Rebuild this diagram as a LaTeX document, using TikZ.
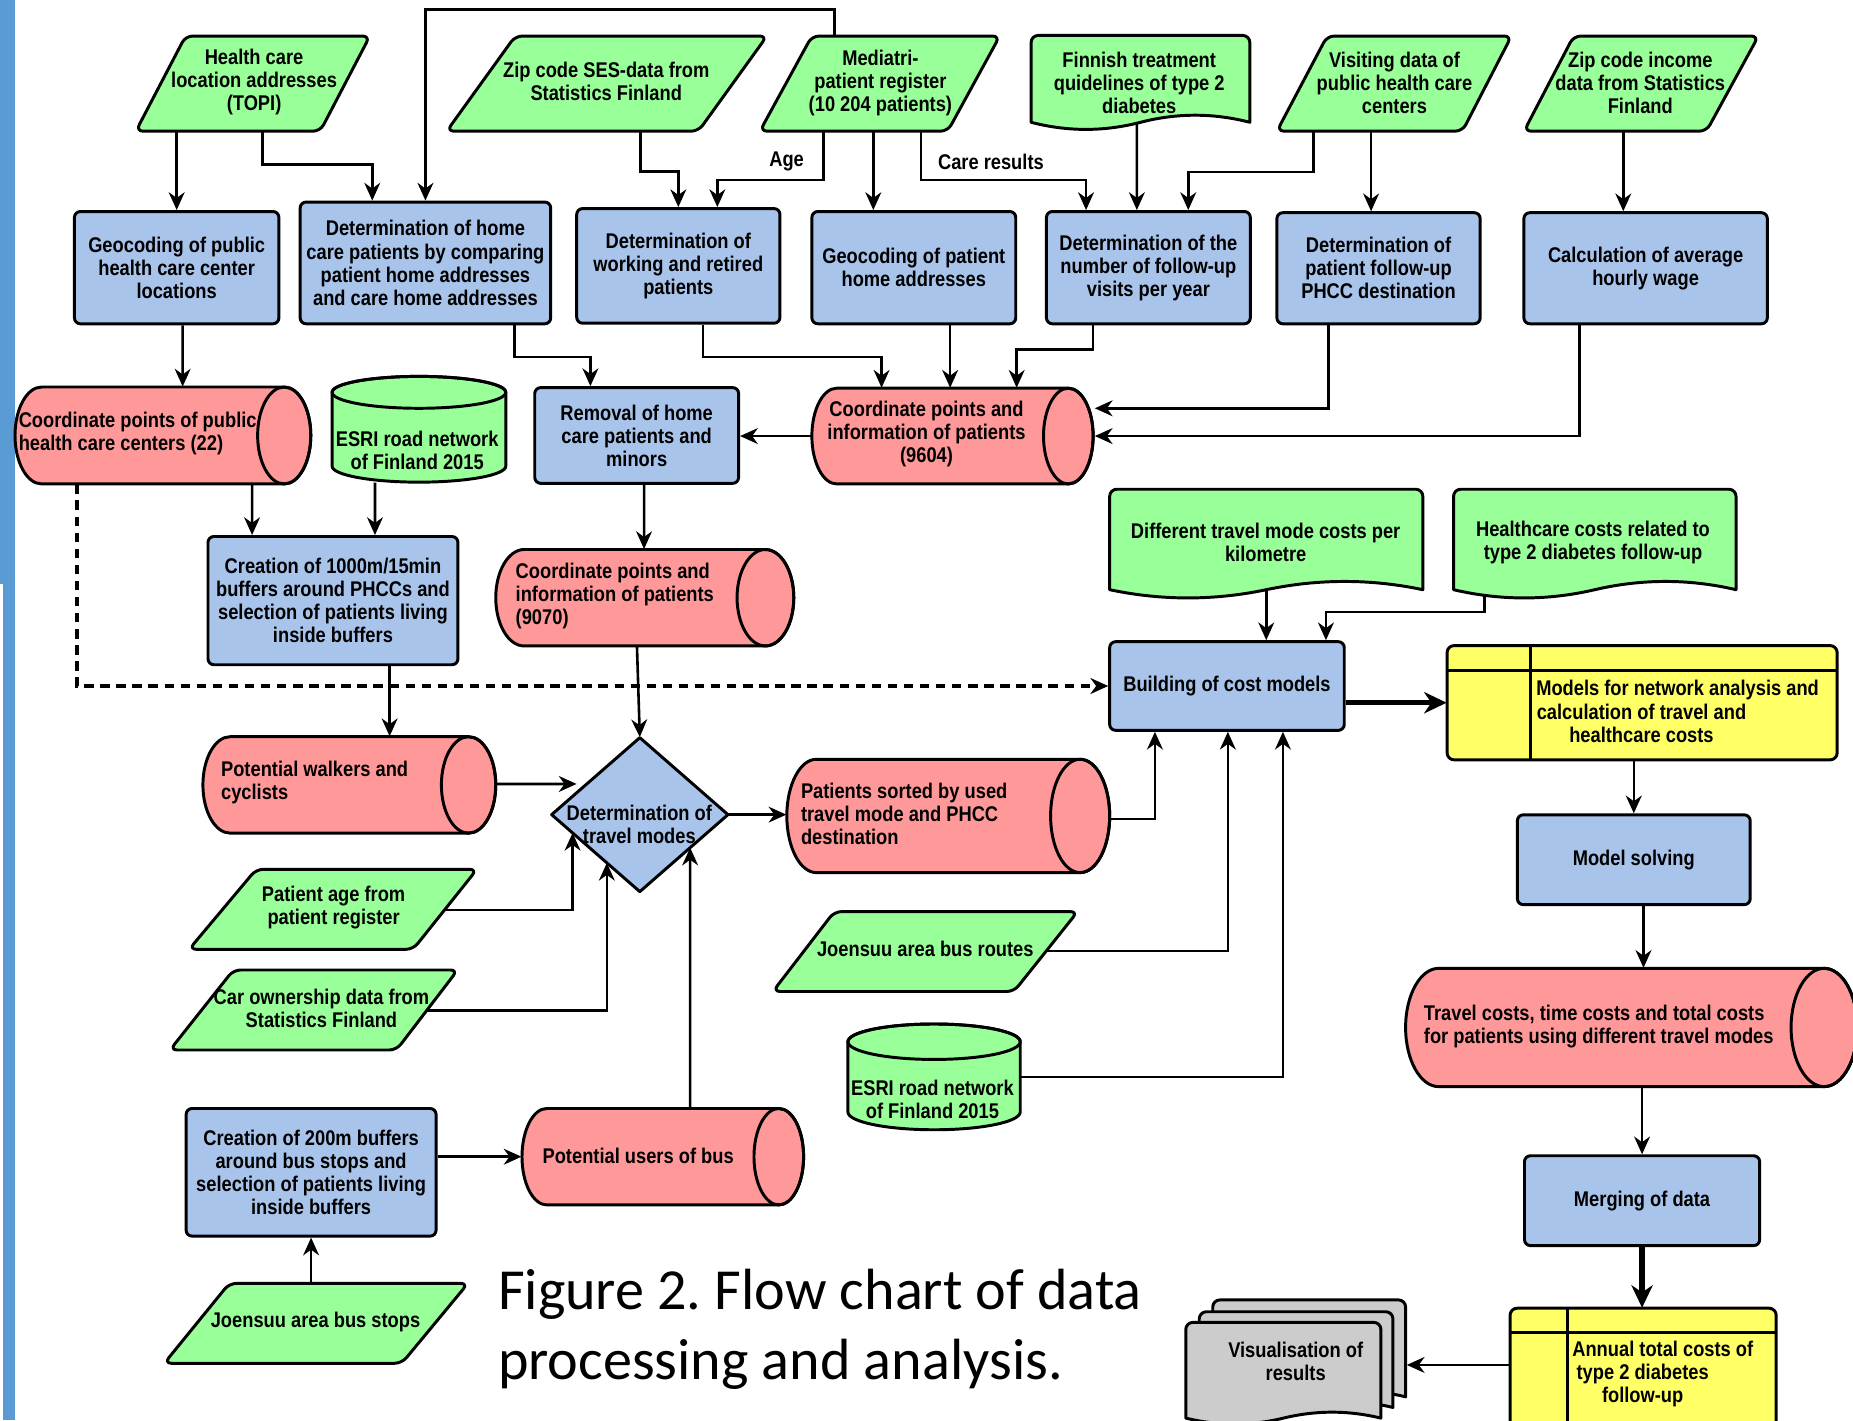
\documentclass[tikz,border=0pt]{standalone}
\usepackage{fontspec}
\newfontfamily\nf{Liberation Sans}[FakeStretch=0.86]
\newfontfamily\capfont{Carlito}
\usetikzlibrary{calc,arrows.meta}
\definecolor{cgreen}{HTML}{99FF99}
\definecolor{cblue}{HTML}{A9C4EB}
\definecolor{cred}{HTML}{FF9999}
\definecolor{cyellow}{HTML}{FFFF66}
\definecolor{cgray}{HTML}{CCCCCC}
\definecolor{barblue}{HTML}{5B9BD5}
\tikzset{
 shp/.style={draw=black, line width=1.25pt, line join=round},
 txt/.style={font=\nf\bfseries\fontsize{9}{9.75}\selectfont, align=center, inner sep=0pt, text=black},
 box/.style 2 args={txt, shp, fill=cblue, rounded corners=2.5pt, minimum width=(#1)*0.5pt, minimum height=(#2)*0.5pt},
 bb/.style 2 args={inner sep=0pt, minimum width=(#1)*0.5pt, minimum height=(#2)*0.5pt},
 conn/.style={line width=1.1pt, -{Stealth[length=7.5pt,width=6.7pt,inset=2.4pt]}},
 thickconn/.style={line width=2.2pt, -{Stealth[length=9.5pt,width=9pt,inset=3pt]}},
 dconn/.style={line width=1.6pt, dash pattern=on 4pt off 2.8pt, -{Stealth[length=7.5pt,width=6.7pt,inset=2.4pt]}},
}
% parallelogram: name, y1, y2, xbl, xtl, xtr, xbr, fill
\newcommand\ParaShape[8]{%
 \draw[shp, fill=#8, rounded corners=3pt] (#4,#3) -- (#5,#2) -- (#6,#2) -- (#7,#3) -- cycle;
 \node[bb={#6-#4}{#3-#2}] (#1) at ({(#4+#6)/2},{(#2+#3)/2}) {};
}
% horizontal cylinder: name, x1, y1, x2, y2, rx, fill
\newcommand\HCyl[7]{%
 \draw[shp, fill=#7] ({#4-#6},#3) -- ({#2+#6},#3)
   arc[start angle=90, end angle=270, x radius={#6*0.5pt}, y radius={(#5-#3)*0.25pt}]
   -- ({#4-#6},#5)
   arc[start angle=270, end angle=450, x radius={#6*0.5pt}, y radius={(#5-#3)*0.25pt}] -- cycle;
 \draw[shp] ({#4-#6},{(#3+#5)/2}) ellipse[x radius={#6*0.5pt}, y radius={(#5-#3)*0.25pt}];
 \node[bb={#4-#2}{#5-#3}] (#1) at ({(#2+#4)/2},{(#3+#5)/2}) {};
}
% vertical cylinder: name, x1, y1, x2, y2, ry
\newcommand\VCyl[6]{%
 \draw[shp, fill=cgreen] (#2,{#3+#6}) -- (#2,{#5-#6})
   arc[start angle=180, end angle=360, x radius={(#4-#2)*0.25pt}, y radius={#6*0.5pt}]
   -- (#4,{#3+#6})
   arc[start angle=0, end angle=180, x radius={(#4-#2)*0.25pt}, y radius={#6*0.5pt}] -- cycle;
 \draw[shp] ({(#2+#4)/2},{#3+#6}) ellipse[x radius={(#4-#2)*0.25pt}, y radius={#6*0.5pt}];
 \node[bb={#4-#2}{#5-#3}] (#1) at ({(#2+#4)/2},{(#3+#5)/2}) {};
}
% document: name, x1, y1, x2, yb, wave, fill
\newcommand\DocShape[7]{%
 \draw[shp, fill=#7] (#2,#5) -- (#2,{#3+6}) arc[start angle=180, end angle=90, radius=3pt]
   -- ({#4-6},#3) arc[start angle=90, end angle=0, radius=3pt] -- (#4,#5)
   .. controls ({#4-(#4-#2)/6},{#5-#6}) and ({(#2+#4)/2+(#4-#2)/6},{#5-#6}) .. ({(#2+#4)/2},#5)
   .. controls ({(#2+#4)/2-(#4-#2)/6},{#5+#6}) and ({#2+(#4-#2)/6},{#5+#6}) .. (#2,#5) -- cycle;
 \node[bb={#4-#2}{#5-#3}] (#1) at ({(#2+#4)/2},{(#3+#5)/2}) {};
}
% internal storage: name, x1, y1, x2, y2, xd, yd
\newcommand\StoreShape[7]{%
 \draw[shp, fill=cyellow, rounded corners=3pt] (#2,#3) rectangle (#4,#5);
 \draw[shp] (#6,#3) -- (#6,#5);
 \draw[shp] (#2,#7) -- (#4,#7);
 \node[bb={#4-#2}{#5-#3}] (#1) at ({(#2+#4)/2},{(#3+#5)/2}) {};
}
\begin{document}
\begin{tikzpicture}[x=0.5pt,y=-0.5pt]
\clip (0,0) rectangle (1568,1202);
\fill[white] (0,0) rectangle (1568,1202);
\fill[barblue] (0,0) rectangle (12.5,494);
\fill[barblue] (2.5,494) rectangle (13,1202);

% ---------- top row inputs ----------
\ParaShape{P1}{30.5}{111}{115}{157}{313}{271}{cgreen}
\node[txt] (P1t) at (215,69.5) {Health care\\location addresses\\(TOPI)};
\ParaShape{P2}{30.5}{111}{378}{436}{649}{591}{cgreen}
\node[txt] (P2t) at (513,68.5) {Zip code SES-data from\\Statistics Finland};
\ParaShape{P3}{30.5}{111}{643}{687}{846}{802}{cgreen}
\node[txt] (P3t) at (745,70) {Mediatri-\\patient register\\(10 204 patients)};
\DocShape{D1}{872.5}{30}{1057.6}{103.5}{8}{cgreen}
\node[txt] (D1t) at (964,70) {Finnish treatment\\quidelines of type 2\\diabetes};
\ParaShape{P4}{30.5}{111}{1080.5}{1123}{1279}{1237.5}{cgreen}
\node[txt] (P4t) at (1180,70) {Visiting data of\\public health care\\centers};
\ParaShape{P5}{30.5}{111}{1289.6}{1331.6}{1488}{1444}{cgreen}
\node[txt] (P5t) at (1388,70) {Zip code income\\data from Statistics\\Finland};

% ---------- second row boxes ----------
\node[box={173}{95}] (B1) at (149.5,226.5) {Geocoding of public\\health care center\\locations};
\node[box={212}{103}] (B2) at (360,222.5) {Determination of home\\care patients by comparing\\patient home addresses\\and care home addresses};
\node[box={172}{97}] (B3) at (574,225) {Determination of\\working and retired\\patients};
\node[box={172.5}{95}] (B4) at (773.25,226.5) {Geocoding of patient\\home addresses};
\node[box={172.5}{95}] (B5) at (971.75,226.5) {Determination of the\\number of follow-up\\visits per year};
\node[box={172}{94}] (B6) at (1166.5,227) {Determination of\\patient follow-up\\PHCC destination};
\node[box={206}{94}] (B7) at (1392.5,227) {Calculation of average\\hourly wage};

% ---------- third row ----------
\HCyl{C1}{12.7}{327.5}{263}{409.5}{22.5}{cred}
\node[txt, anchor=west, align=left] (C1t) at (15.5,367) {Coordinate points of public\\health care centers (22)};
\VCyl{DB1}{281}{318.5}{428}{408}{13.5}
\node[txt] (DB1t) at (353,381) {ESRI road network\\of Finland 2015};
\node[box={172.5}{81}] (B8) at (538.75,368.5) {Removal of home\\care patients and\\minors};
\HCyl{C2}{687}{328.5}{925}{409.5}{21}{cred}
\node[txt] (C2t) at (784,367) {Coordinate points and\\information of patients\\(9604)};

% ---------- fourth row ----------
\node[box={211.5}{108.5}] (B9) at (281.75,508.25) {Creation of 1000m/15min\\buffers around PHCCs and\\selection of patients living\\inside buffers};
\HCyl{C3}{419.5}{465}{671.7}{546.6}{24}{cred}
\node[txt, anchor=west, align=left] (C3t) at (436,504.5) {Coordinate points and\\information of patients\\(9070)};
\DocShape{D2}{939}{414}{1204}{499}{9.3}{cgreen}
\node[txt] (D2t) at (1071,459) {Different travel mode costs per\\kilometre};
\DocShape{D3}{1230}{414}{1469}{499}{9.3}{cgreen}
\node[txt] (D3t) at (1348,459) {Healthcare costs related to\\type 2 diabetes follow-up};
\node[box={198.5}{75}] (B10) at (1038.25,580.5) {Building of cost models};
\StoreShape{Y1}{1224.5}{546.3}{1554.6}{643}{1295}{567}
\node[txt] (Y1t) at (1389,602) {\makebox[89pt][l]{Models for network analysis and}\\calculation of travel and\\healthcare costs};

% ---------- middle ----------
\HCyl{C4}{171.7}{623.4}{419.5}{705}{23}{cred}
\node[txt, anchor=west, align=left] (C4t) at (186.7,662) {Potential walkers and\\cyclists};
\draw[shp, fill=cblue] (541.4,624.2) -- (616,689.35) -- (541.4,754.5) -- (466.8,689.35) -- cycle;
\node[bb={149.2}{130.3}] (DM) at (541.4,689.35) {};
\node[txt] (DMt) at (541,698) {Determination of\\travel modes};
\HCyl{C5}{665.8}{642.5}{939}{738.4}{25}{cred}
\node[txt, anchor=west, align=left] (C5t) at (677.4,688.5) {Patients sorted by used\\travel mode and PHCC\\destination};
\node[box={197}{76}] (B11) at (1382.5,727.5) {Model solving};
\ParaShape{P6}{735.6}{803.3}{160}{216.8}{403.6}{349.6}{cgreen}
\node[txt] (P6t) at (282.3,768.3) {Patient age from\\patient register};
\ParaShape{P7}{820.8}{888.5}{143.8}{197.5}{387.3}{335.5}{cgreen}
\node[txt] (P7t) at (272,853) {Car ownership data from\\Statistics Finland};
\ParaShape{P8}{771.4}{839}{654}{706}{911.9}{858}{cgreen}
\node[txt] (P8t) at (783,803.2) {Joensuu area bus routes};
\HCyl{C6}{1189.4}{819.4}{1571.6}{919.5}{28}{cred}
\node[txt, anchor=west, align=left] (C6t) at (1204.5,868.3) {Travel costs, time costs and total costs\\for patients using different travel modes};
\VCyl{DB2}{717.5}{866.5}{863.3}{956}{15}
\node[txt] (DB2t) at (789,930.5) {ESRI road network\\of Finland 2015};

% ---------- bottom ----------
\node[box={211.5}{108}] (B12) at (263.25,992) {Creation of 200m buffers\\around bus stops and\\selection of patients living\\inside buffers};
\HCyl{C7}{441.7}{938}{680}{1019.6}{21}{cred}
\node[txt] (C7t) at (540,978) {Potential users of bus};
\node[box={199}{76}] (B13) at (1389.5,1016) {Merging of data};
\ParaShape{P9}{1086}{1153.6}{139}{194}{396}{340}{cgreen}
\node[txt] (P9t) at (267,1119) {Joensuu area bus stops};
\DocShape{MD3}{1026.2}{1100}{1189.4}{1182}{6.7}{cgray}
\DocShape{MD2}{1014.8}{1110}{1178.7}{1191}{6.7}{cgray}
\DocShape{MD1}{1003.4}{1119}{1168.5}{1200}{6.7}{cgray}
\node[bb={186}{100}] (MD) at (1096.4,1150) {};
\node[txt] (MDt) at (1096.4,1152.4) {Visualisation of\\results};
\StoreShape{Y2}{1277.8}{1107}{1503}{1215}{1326}{1127.6}
\node[txt] (Y2t) at (1390,1162.8) {\makebox[59.5pt][l]{Annual total costs of}\\type 2 diabetes\\follow-up};

\node[font=\capfont\fontsize{24.6}{30}\selectfont, anchor=base west, inner sep=0pt] (cap1) at (421,1108.5) {Figure 2.\ Flow chart of data};
\node[font=\capfont\fontsize{24.6}{30}\selectfont, anchor=base west, inner sep=0pt] (cap2) at (421,1167.7) {processing and analysis.};

% ---------- connectors ----------
\draw[conn] ($(P1.south)+(-64.5,0)$) -- (B1.north);
\draw[conn] ($(P1.south)+(8,0)$) -- ++(0,28) -| ($(B2.north)+(-45,0)$);
\draw[conn] ($(P3.north)+(-38.5,0)$) -- ++(0,-22) -| (B2.north);
\draw[conn] ($(P2.south)+(28.5,0)$) -- ++(0,33.5) -| (B3.north);
\draw[conn] ($(P3.south)+(-47.5,0)$) -- ++(0,41) -| ($(B3.north)+(33,0)$);
\node[txt] (age) at (665.6,137) {Age};
\draw[conn] ($(P3.south)+(-5.5,0)$) -- ($(B4.north)+(-34.25,0)$);
\draw[conn] ($(P3.south)+(35,0)$) -- ++(0,41) -| ($(B5.north)+(-52.75,0)$);
\node[txt] (care) at (838.5,137) {Care results};
\draw[conn] ($(D1.south)+(-3,0.5)$) -- ($(B5.north)+(-9.75,0)$);
\draw[conn] ($(P4.south)+(-68.35,0)$) -- ++(0,34) -| ($(B5.north)+(33.75,0)$);
\draw[conn] ($(P4.south)+(-19.55,0)$) -- ($(B6.north)+(-6.3,0)$);
\draw[conn] ($(P5.south)+(-15.2,0)$) -- ($(B7.north)+(-18.9,0)$);

\draw[conn] ($(B1.south)+(5,0)$) -- ($(C1.north)+(16.75,0)$);
\draw[conn] ($(B2.south)+(75.6,0)$) -- ++(0,27) -| ($(B8.north)+(-39.15,0)$);
\draw[conn] ($(B3.south)+(20.7,0)$) -- ++(0,27.5) -| ($(C2.north)+(-60,0)$);
\draw[conn] ($(B4.south)+(30.75,0)$) -- ($(C2.north)+(-2,0)$);
\draw[conn] ($(B5.south)+(-46.75,0)$) -- ++(0,20.7) -| ($(C2.north)+(54.3,0)$);
\draw[conn] ($(B6.south)+(-42.5,0)$) |- ($(C2.east)+(1,-23.5)$);
\draw[conn] ($(B7.south)+(-55.8,0)$) |- ($(C2.east)+(1,0)$);
\draw[conn] (C2.west) -- (C2.west -| B8.east);

\draw[conn] ($(C1.south)+(75.45,0)$) -- ($(B9.north)+(-68.45,0)$);
\draw[conn] ($(DB1.south)+(-37.2,0)$) -- ($(B9.north)+(35.55,0)$);
\draw[conn] ($(B8.south)+(6.25,0)$) -- ($(C3.north)+(-0.6,0)$);
\draw[dconn] ($(C1.south)+(-72.85,0)$) |- (B10.west);
\draw[conn] ($(B9.south)+(47.95,0)$) -- ($(C4.north)+(34.1,0)$);
\draw[conn] ($(C3.south)+(-6.6,0)$) -- (DM.north);
\draw[conn] ($(C4.east)+(0,-0.8)$) -- ($(DM.center)+(-53.5,-25.95)$);
\draw[conn] ($(P6.center)+(94.4,0.5)$) -| ($(DM.center)+(-56.9,15.45)$);
\draw[conn] ($(P7.center)+(95.45,0.55)$) -| ($(DM.center)+(-27.9,40.8)$);
\draw[conn] ($(C7.north)+(23.15,0)$) -- ($(DM.center)+(42.6,27.95)$);
\draw[conn] (DM.east) -- (DM.east -| C5.west);

\draw[conn] ($(C5.east)+(0,2.75)$) -| ($(B10.south)+(-60.95,0)$);
\draw[conn] ($(P8.center)+(102.45,-0.6)$) -| ($(B10.south)+(0.75,0)$);
\draw[conn] (DB2.east) -| ($(B10.south)+(47.35,0)$);
\draw[conn] (D2.south) -- (D2.south |- B10.north);
\draw[conn] ($(D3.south)+(-93.1,4.8)$) -- ++(0,13.6) -| ($(B10.north)+(83.75,0)$);
\draw[thickconn] (B10.east |- Y1.west) -- (Y1.west);
\draw[conn] (B11.north |- Y1.south) -- (B11.north);
\draw[conn] ($(B11.south)+(8.2,0)$) -- ($(C6.north)+(10.2,0)$);
\draw[conn] (B13.north |- C6.south) -- (B13.north);
\draw[thickconn] (B13.south) -- (B13.south |- Y2.north);
\draw[conn] ($(Y2.west)+(0,-6)$) -- ($(MD.east)+(0.6,5)$);
\draw[conn] (B12.south |- P9.north) -- (B12.south);
\draw[conn] (C7.west -| B12.east) -- (C7.west);
\end{tikzpicture}
\end{document}
